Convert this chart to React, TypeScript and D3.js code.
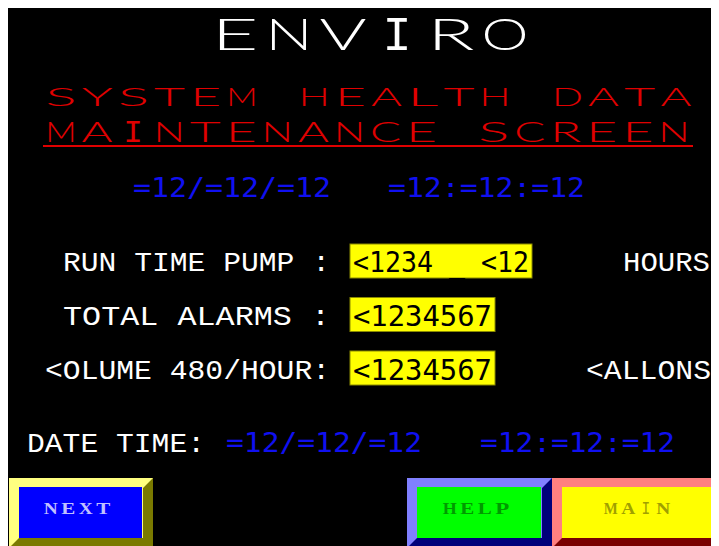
import React from "react";
import * as d3 from "d3";

const TITLE = "ENVIRO";
const SUBTITLES = ["SYSTEM HEALTH DATA", "MAINTENANCE SCREEN"];
const CLOCK_DATE = "=12/=12/=12";
const CLOCK_TIME = "=12:=12:=12";
const ROW_LABELS = ["RUN TIME PUMP :", "TOTAL ALARMS  :", "<OLUME 480/HOUR:"];
const ROW_VALUES = ["<1234 _ <12", "<1234567", "<1234567"];
const ROW_UNITS = ["HOURS", "", "<ALLONS"];
const DATE_LABEL = "DATE TIME:";
const BUTTONS = ["NEXT", "HELP", "MAIN"];

const W = 711;
const H = 538;

const thin = "Lato, 'Noto Sans', sans-serif";
const slab = "'Liberation Mono', 'DejaVu Sans Mono', monospace";
const labelFont = "'Liberation Mono', 'DejaVu Sans Mono', monospace";
const mono = "'DejaVu Sans Mono', 'Liberation Mono', monospace";

const rowY = d3.scaleLinear().domain([0, 2]).range([271, 379]);
const rowBoxTop = d3.scaleLinear().domain([0, 2]).range([244, 351]);
const rowLabelX = [63, 63, 45];
const rowLabelW = [267, 267, 285];
const rowBoxW = [182, 145, 145];
const rowUnitX = [623, 0, 586];
const rowUnitW = [87, 0, 125];

const btnX = d3.scaleOrdinal<string, number>().domain(BUTTONS).range([9, 407, 552]);
const btnW = d3.scaleOrdinal<string, number>().domain(BUTTONS).range([144, 145, 180]);
const btnFill = d3.scaleOrdinal<string, string>().domain(BUTTONS).range(["#0000ff", "#00ff00", "#ffff00"]);
const btnLight = d3.scaleOrdinal<string, string>().domain(BUTTONS).range(["#ffff80", "#8080ff", "#ff8080"]);
const btnDark = d3.scaleOrdinal<string, string>().domain(BUTTONS).range(["#7a7a00", "#00007a", "#7a0000"]);
const btnText = d3.scaleOrdinal<string, string>().domain(BUTTONS).range(["#c0c0ff", "#009a00", "#a0a000"]);
const btnTextCx = d3.scaleOrdinal<string, number>().domain(BUTTONS).range([77, 476, 637]);

function SpacedText({
  text, x, width, y, size, fill, family, weight, glyphW,
}: {
  text: string; x: number; width: number; y: number; size: number; fill: string;
  family: string; weight?: number | string; glyphW: number;
}) {
  const chars = text.split("");
  const pos = d3.scaleLinear().domain([0, chars.length]).range([x, x + width]);
  const pitch = width / chars.length;
  return (
    <g>
      {chars.map((c, i) => {
        if (c === " ") return null;
        const isI = c === "I";
        const gw = isI ? glyphW * 0.62 : glyphW;
        return (
          <text
            key={i}
            x={pos(i) + (pitch - gw) / 2}
            y={y}
            fontFamily={isI ? slab : family}
            fontWeight={isI ? "normal" : weight}
            fontSize={isI ? size * 1.1 : size}
            fill={fill}
            textLength={gw}
            lengthAdjust="spacingAndGlyphs"
          >
            {c}
          </text>
        );
      })}
    </g>
  );
}

function Button({ name }: { name: string }) {
  const x0 = btnX(name);
  const x1 = x0 + btnW(name);
  const y0 = 478;
  const y1 = 548;
  const b = 10;
  const dark: [number, number][] = [
    [x1, y0],
    [x1, y1],
    [x0, y1],
    [x0 + b, y1 - b],
    [x1 - b, y1 - b],
    [x1 - b, y0 + b],
  ];
  const line = d3.line();
  return (
    <g>
      <rect x={x0} y={y0} width={x1 - x0} height={y1 - y0} fill={btnLight(name)} />
      <path d={line(dark) + "Z"} fill={btnDark(name)} />
      <rect x={x0 + b} y={y0 + 9} width={x1 - x0 - 2 * b - 1} height={y1 - y0 - b - 9} fill={btnFill(name)} />
      <SpacedText
        text={name}
        x={btnTextCx(name) - 35}
        width={70}
        y={514}
        size={16}
        weight="bold"
        family="'Liberation Serif', serif"
        fill={btnText(name)}
        glyphW={14}
      />
    </g>
  );
}

export default function App() {
  return (
    <svg width={W} height={H} style={{ display: "block" }}>
      <g transform="translate(-8,-8)">
        <rect x={0} y={0} width={W + 16} height={H + 16} fill="#000000" />
        <SpacedText text={TITLE} x={208} width={324} y={50} size={44} weight={300} family={thin} fill="#ffffff" glyphW={47} />
        <SpacedText text={SUBTITLES[0]} x={43} width={651} y={106} size={26} weight={300} family={thin} fill="#e00000" glyphW={31} />
        <SpacedText text={SUBTITLES[1]} x={43} width={649} y={142} size={28} weight={300} family={thin} fill="#e00000" glyphW={31} />
        <rect x={43} y={145} width={650} height={2} fill="#e00000" />

        <text x={133} y={197} fontFamily={mono} fontSize={27} fill="#1010f0" textLength={198} lengthAdjust="spacingAndGlyphs">
          {CLOCK_DATE}
        </text>
        <text x={388} y={197} fontFamily={mono} fontSize={27} fill="#1010f0" textLength={197} lengthAdjust="spacingAndGlyphs">
          {CLOCK_TIME}
        </text>

        {ROW_LABELS.map((lab, i) => (
          <g key={lab}>
            <text x={rowLabelX[i]} y={rowY(i)} fontFamily={labelFont} fontSize={28} fill="#ffffff" textLength={rowLabelW[i]} lengthAdjust="spacingAndGlyphs">
              {lab}
            </text>
            <rect x={350} y={rowBoxTop(i)} width={rowBoxW[i]} height={34} fill="#ffff00" stroke="#8a8a00" strokeWidth={1} />
            <text x={353} y={rowY(i) + 1} fontFamily={mono} fontSize={29} fill="#000000" textLength={rowBoxW[i] - 6} lengthAdjust="spacingAndGlyphs">
              {ROW_VALUES[i]}
            </text>
            {ROW_UNITS[i] && (
              <text x={rowUnitX[i]} y={rowY(i)} fontFamily={labelFont} fontSize={28} fill="#ffffff" textLength={rowUnitW[i]} lengthAdjust="spacingAndGlyphs">
                {ROW_UNITS[i]}
              </text>
            )}
          </g>
        ))}

        <text x={27} y={452} fontFamily={labelFont} fontSize={28} fill="#ffffff" textLength={178} lengthAdjust="spacingAndGlyphs">
          {DATE_LABEL}
        </text>
        <text x={226} y={452} fontFamily={mono} fontSize={27} fill="#1010f0" textLength={196} lengthAdjust="spacingAndGlyphs">
          {CLOCK_DATE}
        </text>
        <text x={480} y={452} fontFamily={mono} fontSize={27} fill="#1010f0" textLength={195} lengthAdjust="spacingAndGlyphs">
          {CLOCK_TIME}
        </text>

        {BUTTONS.map((n) => (
          <Button key={n} name={n} />
        ))}
      </g>
    </svg>
  );
}
